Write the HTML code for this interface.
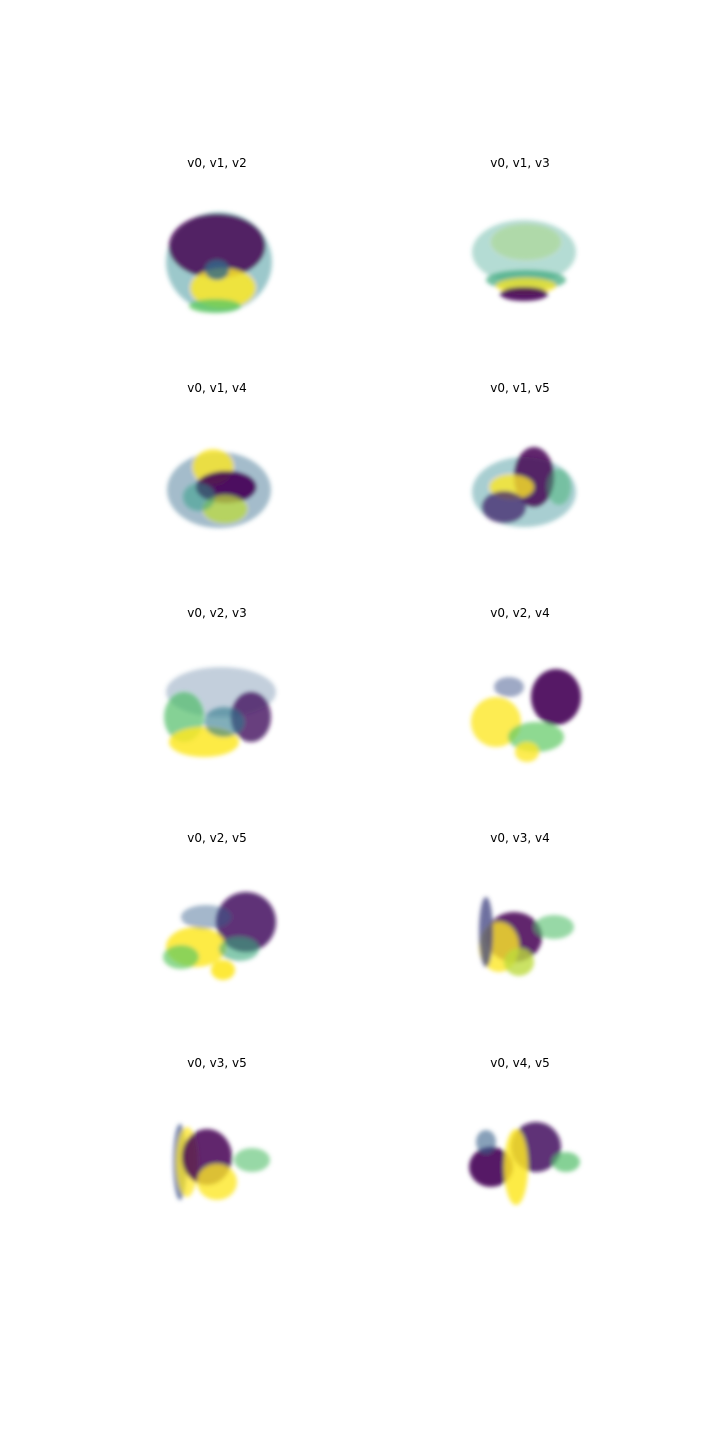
<!DOCTYPE html>
<html><head><meta charset="utf-8"><style>
html,body{margin:0;padding:0;background:#fff;}
svg{display:block;}
text{font-family:"DejaVu Sans","Liberation Sans",sans-serif;font-size:12px;fill:#000;}
</style></head><body>
<svg id="fig" width="720" height="1440" viewBox="0 0 720 1440">
<defs><filter id="soft" x="-30%" y="-30%" width="160%" height="160%"><feGaussianBlur stdDeviation="2.2"/></filter></defs>
</svg>
<script>
// Panel titles and positions of panel centres (grid), data blobs relative to panel centre
const panelTitles = ["v0, v1, v2","v0, v1, v3","v0, v1, v4","v0, v1, v5","v0, v2, v3","v0, v2, v4","v0, v2, v5","v0, v3, v4","v0, v3, v5","v0, v4, v5"];
// blob values: [dx, dy, rx, ry, colourValue(0..1), opacity]
const blobs0 = [[0,0,53,50,0.45,0.45],[-2,-16,48,32,0.0,0.85],[4,26,32,20,1.0,0.85],[-4,44,26,7,0.75,0.8],[-2,8,12,10,0.35,0.8]];
const blobs1 = [[0,-10,52,32,0.55,0.35],[2,-20,35,18,0.85,0.3],[2,18,40,10,0.6,0.7],[2,24,30,8,1.0,0.75],[0,32,24,7,0.0,0.9]];
const blobs2 = [[0,3,52,38,0.35,0.45],[-6,-20,20,18,1.0,0.8],[7,0,30,16,0.0,0.9],[6,22,22,14,0.9,0.75],[-20,10,16,14,0.55,0.5]];
const blobs3 = [[0,5,52,35,0.45,0.4],[10,-10,20,30,0.0,0.85],[-12,0,22,12,1.0,0.8],[-20,20,22,16,0.1,0.75],[35,0,12,18,0.65,0.5]];
const blobs4 = [[2,-20,55,25,0.3,0.3],[-35,5,20,25,0.7,0.7],[-15,30,35,15,1.0,0.85],[32,5,20,25,0.05,0.8],[5,10,20,15,0.4,0.6]];
const blobs5 = [[32,-15,25,28,0.0,0.9],[-28,10,25,25,1.0,0.8],[12,25,28,15,0.75,0.7],[-15,-25,15,10,0.25,0.5],[3,40,12,10,1.0,0.8]];
const blobs6 = [[27,-15,30,30,0.05,0.85],[-23,10,30,20,1.0,0.85],[-38,20,18,12,0.75,0.7],[-13,-20,25,12,0.3,0.45],[4,33,12,10,1.0,0.9],[20,12,20,12,0.6,0.6]];
const blobs7 = [[-10,0,28,25,0.0,0.85],[-25,10,20,25,1.0,0.8],[30,-10,20,12,0.7,0.6],[-38,-5,7,35,0.2,0.75],[-5,25,15,14,0.9,0.8]];
const blobs8 = [[-39,0,7,38,0.25,0.7],[-32,0,11,35,1.0,0.75],[-12,-5,25,28,0.0,0.85],[-2,20,20,18,1.0,0.8],[33,-2,18,12,0.7,0.6]];
const blobs9 = [[-33,5,22,20,0.0,0.9],[12,-15,25,25,0.05,0.85],[-8,5,12,38,1.0,0.85],[42,0,14,10,0.7,0.7],[-38,-20,10,12,0.3,0.6]];
const allBlobs = [blobs0,blobs1,blobs2,blobs3,blobs4,blobs5,blobs6,blobs7,blobs8,blobs9];

const colX = [217, 520];
const rowY0 = 163, rowStep = 225, plotOffset = 99;
const stops = [[68,1,84],[59,82,139],[33,145,140],[94,201,98],[253,231,37]];
function viridis(t){
  t=Math.max(0,Math.min(1,t));const s=t*(stops.length-1);const i=Math.min(Math.floor(s),stops.length-2);const f=s-i;
  const c=stops[i].map((v,k)=>Math.round(v+(stops[i+1][k]-v)*f));return `rgb(${c[0]},${c[1]},${c[2]})`;
}
const NS="http://www.w3.org/2000/svg";
const fig=document.getElementById('fig');
panelTitles.forEach((title,p)=>{
  const col=p%2,row=Math.floor(p/2);
  const cx=colX[col]+(col===1?4:2), ty=rowY0+row*rowStep, cy=ty+plotOffset;
  const g=document.createElementNS(NS,'g');
  
  
  const t=document.createElementNS(NS,'text');
  
  
  t.setAttribute('x',colX[col]);t.setAttribute('y',ty+4);t.setAttribute('text-anchor','middle');
  t.textContent=title;g.appendChild(t);
  const pg=document.createElementNS(NS,'g');pg.setAttribute('filter','url(#soft)');
  allBlobs[p].forEach(b=>{
    const e=document.createElementNS(NS,'ellipse');
    
    
    e.setAttribute('cx',cx+b[0]);e.setAttribute('cy',cy+b[1]);
    e.setAttribute('rx',b[2]);e.setAttribute('ry',b[3]);
    e.setAttribute('fill',viridis(b[4]));e.setAttribute('fill-opacity',b[5]);
    pg.appendChild(e);
  });
  g.appendChild(pg);fig.appendChild(g);
});
</script>
</body></html>
